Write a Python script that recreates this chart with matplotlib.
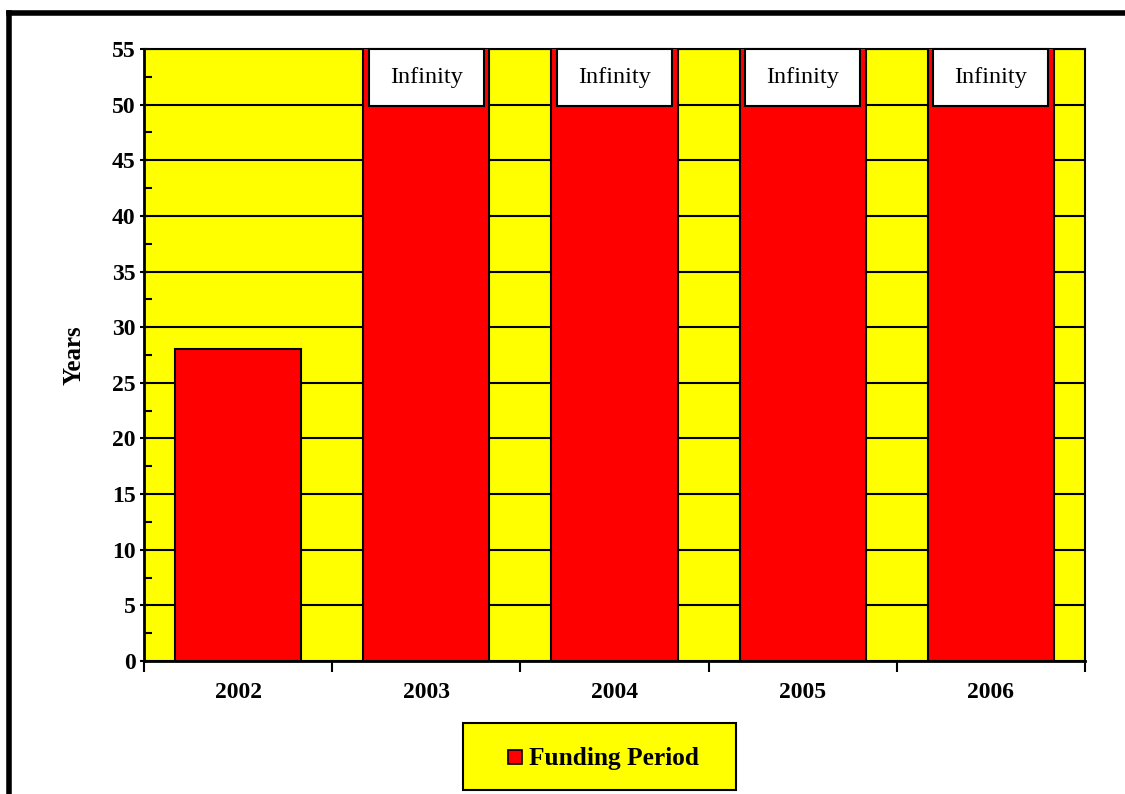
import numpy as np
import matplotlib
matplotlib.use("Agg")
import matplotlib.pyplot as plt
from matplotlib.lines import Line2D
from matplotlib.patches import Rectangle

categories = ["2002", "2003", "2004", "2005", "2006"]
values = [28, np.inf, np.inf, np.inf, np.inf]
bar_labels = ["", "Infinity", "Infinity", "Infinity", "Infinity"]
series_name = "Funding Period"
y_label = "Years"
y_ticks = list(range(0, 56, 5))

plt.rcParams['font.family'] = ['Liberation Serif', 'DejaVu Serif']

fig = plt.figure(figsize=(11.25, 7.94), dpi=100)
ax = fig.add_axes([144/1125, 1-661/794, (1085-144)/1125, (661-49)/794])
ax.set_facecolor("#FFFF00")

ymax = 55
x = np.arange(len(categories))
heights = [min(v, ymax + 1) for v in values]
ax.bar(x, heights, width=0.67, color="#FF0000", edgecolor="black", linewidth=1.5, zorder=3)

ax.set_ylim(0, ymax)
ax.set_xlim(-0.5, len(categories) - 0.5)
ax.set_yticks(y_ticks)
ax.set_yticklabels([str(t) for t in y_ticks], fontsize=17, fontweight="bold")
ax.set_yticks(np.arange(2.5, ymax, 5), minor=True)
ax.yaxis.grid(True, which="major", color="black", linewidth=1.5, zorder=1)
ax.set_axisbelow(True)
ax.tick_params(axis="y", which="major", direction="inout", length=6, width=1.5, pad=3)
ax.tick_params(axis="y", which="minor", direction="in", length=6, width=1.5)

ax.set_xticks(np.arange(-0.5, len(categories), 1))
ax.set_xticklabels([])
ax.set_xticks(x, minor=True)
ax.set_xticklabels(categories, minor=True, fontsize=17, fontweight="bold")
ax.tick_params(axis="x", which="major", direction="out", length=8, width=1.5)
ax.tick_params(axis="x", which="minor", length=0, pad=15)

for s in ["left", "bottom"]:
    ax.spines[s].set_linewidth(2)
for s in ["top", "right"]:
    ax.spines[s].set_linewidth(1.5)

ax.set_ylabel(y_label, fontsize=18, fontweight="bold", labelpad=19)

for xi, lab in zip(x, bar_labels):
    if lab:
        ax.add_patch(Rectangle((xi - 0.306, ymax - 5.1), 0.612, 5.1, facecolor="white",
                               edgecolor="black", linewidth=1.5, zorder=4, clip_on=False))
        ax.text(xi, ymax - 2.6, lab, ha="center", va="center", fontsize=17.5, zorder=5)

# legend box
fig.patches.append(Rectangle((463/1125, 1-790/794), (736-463)/1125, (790-723)/794,
                             transform=fig.transFigure, facecolor="#FFFF00",
                             edgecolor="black", linewidth=1.5))
fig.patches.append(Rectangle((508/1125, 1-764/794), 14/1125, 14/794,
                             transform=fig.transFigure, facecolor="#FF0000",
                             edgecolor="black", linewidth=1.2))
fig.text(529/1125, 1-758/794, series_name, fontsize=18.3, fontweight="bold", va="center", ha="left")

# outer frame
fig.lines.append(Line2D([8.5/1125, 8.5/1125], [0, 1-12.5/794], transform=fig.transFigure,
                        color="black", linewidth=4, solid_capstyle="projecting"))
fig.lines.append(Line2D([8.5/1125, 1], [1-12.5/794, 1-12.5/794], transform=fig.transFigure,
                        color="black", linewidth=4, solid_capstyle="projecting"))

fig.savefig("out.png", dpi=100)
